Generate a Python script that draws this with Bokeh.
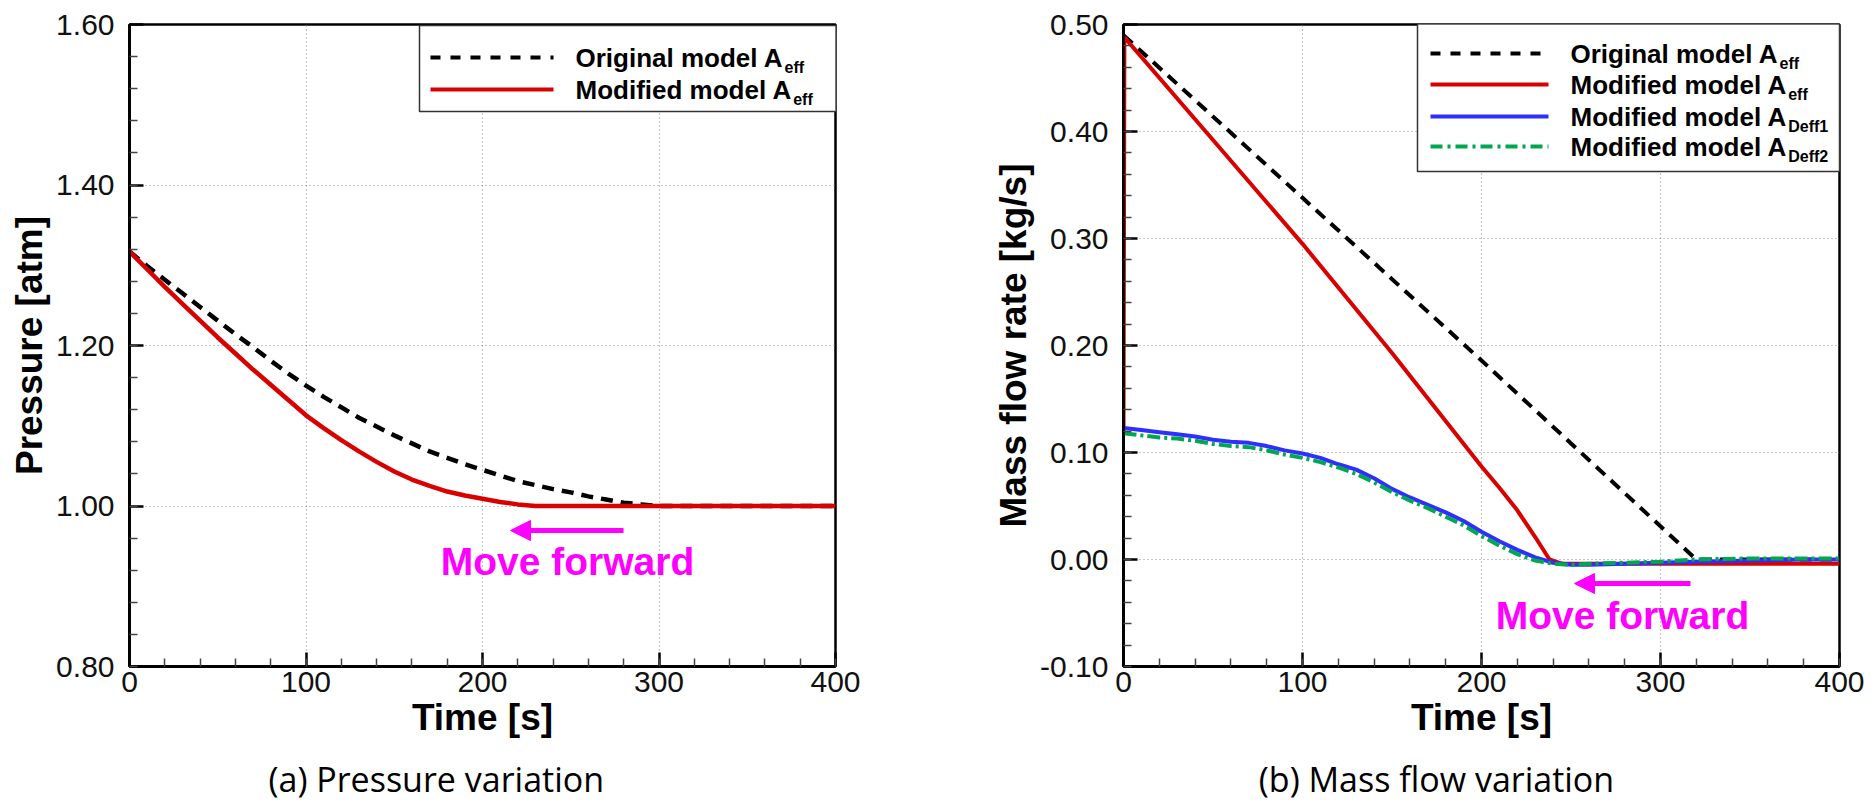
import numpy as np
from bokeh.plotting import figure
from bokeh.layouts import row
from bokeh.models import (Range1d, FixedTicker, NumeralTickFormatter, Arrow,
                          NormalHead, Label, BoxAnnotation, Title)
from bokeh.embed import file_html
from bokeh.resources import INLINE

# ---------------- data ----------------
# (a) Pressure variation
t_orig_a = [0, 10, 20, 30, 40, 50, 60, 70, 80, 90, 100, 110, 120, 130, 140, 150, 160,
            170, 180, 190, 200, 210, 220, 230, 240, 250, 260, 270, 280, 290, 300, 350, 400]
p_orig_a = [1.317, 1.299, 1.282, 1.265, 1.248, 1.231, 1.214, 1.198, 1.181, 1.165, 1.150,
            1.136, 1.123, 1.110, 1.099, 1.088, 1.078, 1.068, 1.060, 1.052, 1.045, 1.038,
            1.031, 1.026, 1.021, 1.017, 1.012, 1.008, 1.004, 1.002, 1.000, 1.000, 1.000]
t_mod_a = [0, 10, 20, 30, 40, 50, 60, 70, 80, 90, 100, 110, 120, 130, 140, 150, 160,
           170, 180, 190, 200, 210, 220, 230, 400]
p_mod_a = [1.317, 1.295, 1.273, 1.252, 1.231, 1.210, 1.190, 1.170, 1.151, 1.132, 1.113,
           1.097, 1.082, 1.068, 1.055, 1.043, 1.033, 1.025, 1.018, 1.013, 1.009, 1.005,
           1.002, 1.000, 1.000]

# (b) Mass flow variation
t_orig_b = [0, 100, 200, 300, 320, 400]
m_orig_b = [0.490, 0.338, 0.186, 0.031, 0.000, 0.000]
t_mod_b = [0, 0.5, 50, 100, 150, 200, 210, 220, 230, 238, 245, 300, 400]
m_mod_b = [0.120, 0.488, 0.392, 0.295, 0.193, 0.087, 0.067, 0.046, 0.021, 0.000,
           -0.004, -0.004, -0.004]
t_deff = [0, 10, 20, 30, 40, 50, 60, 70, 80, 90, 100, 110, 120, 130, 140, 150, 160, 170,
          180, 190, 200, 210, 220, 230, 240, 250, 260, 280, 300, 320, 350, 380, 400]
m_deff1 = [0.123, 0.121, 0.119, 0.117, 0.115, 0.112, 0.110, 0.109, 0.106, 0.102, 0.099,
           0.095, 0.089, 0.084, 0.076, 0.066, 0.058, 0.051, 0.044, 0.036, 0.026, 0.017,
           0.009, 0.002, -0.003, -0.005, -0.005, -0.004, -0.003, -0.002, -0.001, 0.000, 0.000]
m_deff2 = [0.118, 0.116, 0.114, 0.113, 0.111, 0.108, 0.106, 0.105, 0.102, 0.098, 0.095,
           0.091, 0.086, 0.080, 0.072, 0.063, 0.055, 0.048, 0.040, 0.032, 0.022, 0.013,
           0.005, -0.001, -0.004, -0.005, -0.004, -0.003, -0.002, 0.000, 0.001, 0.001, 0.001]

x_ticks = [0, 100, 200, 300, 400]
ya_ticks = [0.8, 1.0, 1.2, 1.4, 1.6]
yb_ticks = [-0.1, 0.0, 0.1, 0.2, 0.3, 0.4, 0.5]

legend_a = ["Original model A", "Modified model A"]
legend_a_sub = ["eff", "eff"]
legend_b = ["Original model A", "Modified model A", "Modified model A", "Modified model A"]
legend_b_sub = ["eff", "eff", "Deff1", "Deff2"]

x_label = "Time [s]"
ya_label = "Pressure [atm]"
yb_label = "Mass flow rate [kg/s]"
caption_a = "(a) Pressure variation"
caption_b = "(b) Mass flow variation"
note_text = "Move forward"

# ---------------- style ----------------
FONT = "Liberation Sans"
CAP_FONT = "Open Sans"
C_BLACK = "#000000"
C_RED = "#D90000"
C_BLUE = "#2E2EFF"
C_GREEN = "#00A650"
C_MAG = "#FF00FF"

# Arial-bold advance widths (em) for subscript placement
W_BOLD = {"O": .778, "r": .389, "i": .278, "g": .611, "n": .611, "a": .556, "l": .278,
          " ": .278, "m": .889, "o": .611, "d": .611, "e": .556, "M": .833, "f": .333,
          "A": .722}
# Open Sans advance widths (em) for caption placement
W_OPEN = {"(": .296, ")": .296, " ": .26, "a": .556, "b": .613, "P": .603, "M": .907,
          "r": .408, "e": .561, "s": .479, "u": .613, "v": .5, "i": .258, "t": .353,
          "o": .601, "n": .613, "f": .344, "l": .258, "w": .797}


def text_w(s, size, table=W_BOLD):
    return sum(table.get(c, 0.6) for c in s) * size


TOP, H = 24, 642
TOTAL_H = 809


def make_fig(fr_w, b_left, b_right, xr, yr, yticks, ylabel):
    p = figure(frame_width=fr_w, frame_height=H, x_range=Range1d(*xr),
               y_range=Range1d(*yr), output_backend="svg", toolbar_location=None,
               min_border_left=b_left, min_border_right=b_right,
               min_border_top=TOP, min_border_bottom=TOTAL_H - TOP - H)
    p.background_fill_color = "white"
    p.border_fill_color = "white"
    p.outline_line_color = "black"
    p.outline_line_width = 2.5
    p.outline_line_alpha = 1.0
    p.xaxis.ticker = FixedTicker(ticks=x_ticks, minor_ticks=list(np.arange(0, 401, 20)))
    step = (yticks[1] - yticks[0]) / 5.0
    p.yaxis.ticker = FixedTicker(ticks=yticks,
                                 minor_ticks=list(np.arange(yr[0], yr[1] + step / 2, step)))
    p.yaxis.formatter = NumeralTickFormatter(format="0.00")
    p.xaxis.formatter = NumeralTickFormatter(format="0")
    for ax in (p.xaxis[0], p.yaxis[0]):
        ax.axis_line_width = 3
        ax.axis_line_color = "black"
        ax.major_tick_in = 14
        ax.major_tick_out = 0
        ax.minor_tick_in = 8
        ax.minor_tick_out = 0
        ax.major_tick_line_width = 2.5
        ax.minor_tick_line_width = 1.5
        ax.minor_tick_line_color = "#444444"
        ax.major_label_text_font = FONT
        ax.major_label_text_font_size = "30px"
        ax.major_label_text_color = "#111111"
        ax.axis_label_text_font = FONT
        ax.axis_label_text_font_style = "bold"
        ax.axis_label_text_font_size = "37px"
        ax.axis_label_text_color = "#000000"
    p.xaxis.major_label_standoff = 5
    p.xaxis.axis_label_standoff = 2
    p.yaxis.major_label_standoff = 15
    p.yaxis.axis_label_standoff = 3
    p.xaxis.axis_label = x_label
    p.yaxis.axis_label = ylabel
    p.grid.grid_line_color = "#8a8a8a"
    p.grid.grid_line_dash = "1 3"
    p.grid.grid_line_width = 1.2
    return p


def add_legend(p, conv, box_px, rows_y, line_px, text_x, labels, subs, dashes, colors, size):
    px2x, px2y = conv
    p.add_layout(BoxAnnotation(left=px2x(box_px[0]), right=px2x(box_px[2]),
                               top=px2y(box_px[1]), bottom=px2y(box_px[3]),
                               fill_color="white", fill_alpha=1.0,
                               line_color="#333333", line_width=1.5, line_alpha=1.0))
    for ry, lab, sub, dash, col in zip(rows_y, labels, subs, dashes, colors):
        p.add_layout(Arrow(x_start=px2x(line_px[0]), x_end=px2x(line_px[1]),
                           y_start=px2y(ry), y_end=px2y(ry), start=None, end=None,
                           line_color=col, line_width=4, line_dash=dash))
        p.add_layout(Label(x=px2x(text_x), y=px2y(ry), text=lab, text_font=FONT,
                           text_font_style="bold", text_font_size=f"{size}px",
                           text_baseline="middle", text_align="left", text_color="black"))
        p.add_layout(Label(x=px2x(text_x + text_w(lab, size) + 1), y=px2y(ry + 10), text=sub,
                           text_font=FONT, text_font_style="bold", text_font_size="16px",
                           text_baseline="middle", text_align="left", text_color="black"))


def add_caption(p, text, center_px, frame_left):
    w = text_w(text, 34, W_OPEN)
    p.add_layout(Title(text=text, align="left", offset=center_px - w / 2 - frame_left,
                       text_font=CAP_FONT, text_font_size="34px", text_font_style="normal",
                       text_color="black", standoff=26), "below")


def add_note(p, conv, arrow_px, arrow_y, text_cx, text_cy):
    px2x, px2y = conv
    p.add_layout(Arrow(x_start=px2x(arrow_px[0]), x_end=px2x(arrow_px[1]),
                       y_start=px2y(arrow_y), y_end=px2y(arrow_y), line_color=C_MAG,
                       line_width=5,
                       end=NormalHead(size=20, fill_color=C_MAG, line_color=C_MAG)))
    p.add_layout(Label(x=px2x(text_cx), y=px2y(text_cy), text=note_text, text_font=FONT,
                       text_font_style="bold", text_font_size="39px", text_color=C_MAG,
                       text_align="center", text_baseline="middle"))


# ---------------- (a) ----------------
A_LEFT, A_W = 129, 706
xa = (0, 400)
ya = (0.8, 1.6)
pa = make_fig(A_W, A_LEFT, 940 - A_LEFT - A_W, xa, ya, ya_ticks, ya_label)
conv_a = (lambda px: xa[0] + (px - A_LEFT) / A_W * (xa[1] - xa[0]),
          lambda py: ya[1] - (py - TOP) / H * (ya[1] - ya[0]))

pa.line(t_orig_a, p_orig_a, line_color=C_BLACK, line_width=4.5, line_dash="12 8")
pa.line(t_mod_a, p_mod_a, line_color=C_RED, line_width=4.5)

add_legend(pa, conv_a, (419, 25, 836, 111), [57, 89], (430, 553), 575,
           legend_a, legend_a_sub, ["10 10", "solid"], [C_BLACK, C_RED], 26)
add_note(pa, conv_a, (623, 510), 530, 567, 561)
add_caption(pa, caption_a, 436, A_LEFT)

# ---------------- (b) ----------------
B_START = 940
B_LEFT, B_W = 1123, 716
xb = (0, 400)
yb = (-0.1, 0.5)
pb = make_fig(B_W, B_LEFT - B_START, 1876 - B_LEFT - B_W, xb, yb, yb_ticks, yb_label)
conv_b = (lambda px: xb[0] + (px - B_LEFT) / B_W * (xb[1] - xb[0]),
          lambda py: yb[1] - (py - TOP) / H * (yb[1] - yb[0]))

pb.line(t_orig_b, m_orig_b, line_color=C_BLACK, line_width=4, line_dash="12 8")
pb.line(t_mod_b, m_mod_b, line_color=C_RED, line_width=4)
pb.line(t_deff, m_deff1, line_color=C_BLUE, line_width=4)
pb.line(t_deff, m_deff2, line_color=C_GREEN, line_width=4, line_dash="13 4 3 4")

add_legend(pb, conv_b, (1417, 23, 1839, 171), [53, 84, 116, 146], (1430, 1548), 1570,
           legend_b, legend_b_sub, ["10 10", "solid", "solid", "12 5 3 5"],
           [C_BLACK, C_RED, C_BLUE, C_GREEN], 26)
add_note(pb, conv_b, (1690, 1574), 583, 1622, 615)
add_caption(pb, caption_b, 1437, B_LEFT)

layout = row(pa, pb, spacing=0)
open("out.html", "w").write(file_html(layout, INLINE))
